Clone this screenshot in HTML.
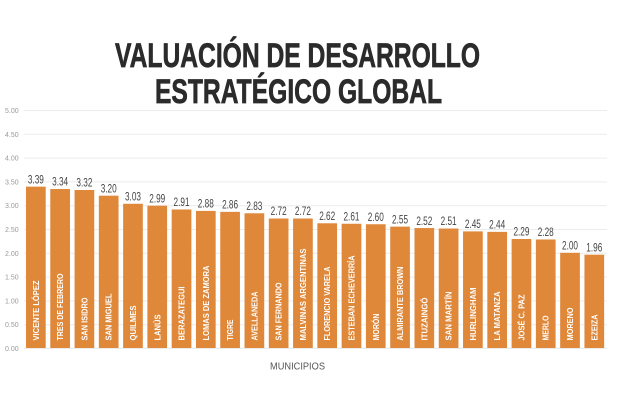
<!DOCTYPE html>
<html><head><meta charset="utf-8"><style>
html,body{margin:0;padding:0;background:#fff;}
svg{display:block;}
text{font-family:"Liberation Sans",sans-serif;}
</style></head><body>
<svg width="640" height="400" viewBox="0 0 640 400" xmlns="http://www.w3.org/2000/svg">
<rect width="640" height="400" fill="#fff"/>
<text x="115" y="67" font-size="34" font-weight="bold" fill="#2b2b2b" stroke="#2b2b2b" stroke-width="0.7" textLength="365" lengthAdjust="spacingAndGlyphs">VALUACIÓN DE DESARROLLO</text>
<text x="155" y="103" font-size="34" font-weight="bold" fill="#2b2b2b" stroke="#2b2b2b" stroke-width="0.7" textLength="287" lengthAdjust="spacingAndGlyphs">ESTRATÉGICO GLOBAL</text>
<g stroke="#ececec" stroke-width="1">
<line x1="24" x2="607" y1="110.5" y2="110.5"/>
<line x1="24" x2="607" y1="134.3" y2="134.3"/>
<line x1="24" x2="607" y1="158.1" y2="158.1"/>
<line x1="24" x2="607" y1="181.9" y2="181.9"/>
<line x1="24" x2="607" y1="205.7" y2="205.7"/>
<line x1="24" x2="607" y1="229.5" y2="229.5"/>
<line x1="24" x2="607" y1="253.3" y2="253.3"/>
<line x1="24" x2="607" y1="277.1" y2="277.1"/>
<line x1="24" x2="607" y1="300.9" y2="300.9"/>
<line x1="24" x2="607" y1="324.7" y2="324.7"/>
<line x1="24" x2="607" y1="348.5" y2="348.5"/>
</g>
<g font-size="7" fill="#9a9a9a">
<text x="5" y="113">5.00</text>
<text x="5" y="136.8">4.50</text>
<text x="5" y="160.6">4.00</text>
<text x="5" y="184.4">3.50</text>
<text x="5" y="208.2">3.00</text>
<text x="5" y="232">2.50</text>
<text x="5" y="255.8">2.00</text>
<text x="5" y="279.6">1.50</text>
<text x="5" y="303.4">1.00</text>
<text x="5" y="327.2">0.50</text>
<text x="5" y="351">0.00</text>
</g>
<g fill="#e0883a">
<rect x="26.00" y="186.64" width="19.7" height="161.36"/>
<rect x="50.28" y="189.02" width="19.7" height="158.98"/>
<rect x="74.56" y="189.97" width="19.7" height="158.03"/>
<rect x="98.84" y="195.68" width="19.7" height="152.32"/>
<rect x="123.12" y="203.77" width="19.7" height="144.23"/>
<rect x="147.40" y="205.68" width="19.7" height="142.32"/>
<rect x="171.68" y="209.48" width="19.7" height="138.52"/>
<rect x="195.96" y="210.91" width="19.7" height="137.09"/>
<rect x="220.24" y="211.86" width="19.7" height="136.14"/>
<rect x="244.52" y="213.29" width="19.7" height="134.71"/>
<rect x="268.80" y="218.53" width="19.7" height="129.47"/>
<rect x="293.08" y="218.53" width="19.7" height="129.47"/>
<rect x="317.36" y="223.29" width="19.7" height="124.71"/>
<rect x="341.64" y="223.76" width="19.7" height="124.24"/>
<rect x="365.92" y="224.24" width="19.7" height="123.76"/>
<rect x="390.20" y="226.62" width="19.7" height="121.38"/>
<rect x="414.48" y="228.05" width="19.7" height="119.95"/>
<rect x="438.76" y="228.52" width="19.7" height="119.48"/>
<rect x="463.04" y="231.38" width="19.7" height="116.62"/>
<rect x="487.32" y="231.86" width="19.7" height="116.14"/>
<rect x="511.60" y="239.00" width="19.7" height="109.00"/>
<rect x="535.88" y="239.47" width="19.7" height="108.53"/>
<rect x="560.16" y="252.80" width="19.7" height="95.20"/>
<rect x="584.44" y="254.70" width="19.7" height="93.30"/>
</g>
<g font-size="11.5" fill="#444" text-anchor="middle">
<text x="35.85" y="183.3" textLength="16" lengthAdjust="spacingAndGlyphs">3.39</text>
<text x="60.13" y="185.7" textLength="16" lengthAdjust="spacingAndGlyphs">3.34</text>
<text x="84.41" y="186.7" textLength="16" lengthAdjust="spacingAndGlyphs">3.32</text>
<text x="108.69" y="192.4" textLength="16" lengthAdjust="spacingAndGlyphs">3.20</text>
<text x="132.97" y="200.5" textLength="16" lengthAdjust="spacingAndGlyphs">3.03</text>
<text x="157.25" y="202.4" textLength="16" lengthAdjust="spacingAndGlyphs">2.99</text>
<text x="181.53" y="206.2" textLength="16" lengthAdjust="spacingAndGlyphs">2.91</text>
<text x="205.81" y="207.6" textLength="16" lengthAdjust="spacingAndGlyphs">2.88</text>
<text x="230.09" y="208.6" textLength="16" lengthAdjust="spacingAndGlyphs">2.86</text>
<text x="254.37" y="210.0" textLength="16" lengthAdjust="spacingAndGlyphs">2.83</text>
<text x="278.65" y="215.2" textLength="16" lengthAdjust="spacingAndGlyphs">2.72</text>
<text x="302.93" y="215.2" textLength="16" lengthAdjust="spacingAndGlyphs">2.72</text>
<text x="327.21" y="220.0" textLength="16" lengthAdjust="spacingAndGlyphs">2.62</text>
<text x="351.49" y="220.5" textLength="16" lengthAdjust="spacingAndGlyphs">2.61</text>
<text x="375.77" y="221.0" textLength="16" lengthAdjust="spacingAndGlyphs">2.60</text>
<text x="400.05" y="223.3" textLength="16" lengthAdjust="spacingAndGlyphs">2.55</text>
<text x="424.33" y="224.8" textLength="16" lengthAdjust="spacingAndGlyphs">2.52</text>
<text x="448.61" y="225.2" textLength="16" lengthAdjust="spacingAndGlyphs">2.51</text>
<text x="472.89" y="228.1" textLength="16" lengthAdjust="spacingAndGlyphs">2.45</text>
<text x="497.17" y="228.6" textLength="16" lengthAdjust="spacingAndGlyphs">2.44</text>
<text x="521.45" y="235.7" textLength="16" lengthAdjust="spacingAndGlyphs">2.29</text>
<text x="545.73" y="236.2" textLength="16" lengthAdjust="spacingAndGlyphs">2.28</text>
<text x="570.01" y="249.5" textLength="16" lengthAdjust="spacingAndGlyphs">2.00</text>
<text x="594.29" y="251.4" textLength="16" lengthAdjust="spacingAndGlyphs">1.96</text>
</g>
<g font-size="8.5" font-weight="bold" fill="#fff">
<text transform="translate(38.85,340.5) rotate(-90)" textLength="60" lengthAdjust="spacingAndGlyphs">VICENTE LÓPEZ</text>
<text transform="translate(63.13,340.5) rotate(-90)" textLength="67" lengthAdjust="spacingAndGlyphs">TRES DE FEBRERO</text>
<text transform="translate(87.41,340.5) rotate(-90)" textLength="43" lengthAdjust="spacingAndGlyphs">SAN ISIDRO</text>
<text transform="translate(111.69,340.5) rotate(-90)" textLength="47" lengthAdjust="spacingAndGlyphs">SAN MIGUEL</text>
<text transform="translate(135.97,340.5) rotate(-90)" textLength="35" lengthAdjust="spacingAndGlyphs">QUILMES</text>
<text transform="translate(160.25,340.5) rotate(-90)" textLength="26" lengthAdjust="spacingAndGlyphs">LANÚS</text>
<text transform="translate(184.53,340.5) rotate(-90)" textLength="54" lengthAdjust="spacingAndGlyphs">BERAZATEGUI</text>
<text transform="translate(208.81,340.5) rotate(-90)" textLength="75" lengthAdjust="spacingAndGlyphs">LOMAS DE ZAMORA</text>
<text transform="translate(233.09,340.5) rotate(-90)" textLength="21" lengthAdjust="spacingAndGlyphs">TIGRE</text>
<text transform="translate(257.37,340.5) rotate(-90)" textLength="49" lengthAdjust="spacingAndGlyphs">AVELLANEDA</text>
<text transform="translate(281.65,340.5) rotate(-90)" textLength="58" lengthAdjust="spacingAndGlyphs">SAN FERNANDO</text>
<text transform="translate(305.93,340.5) rotate(-90)" textLength="92" lengthAdjust="spacingAndGlyphs">MALVINAS ARGENTINAS</text>
<text transform="translate(330.21,340.5) rotate(-90)" textLength="74" lengthAdjust="spacingAndGlyphs">FLORENCIO VARELA</text>
<text transform="translate(354.49,340.5) rotate(-90)" textLength="85" lengthAdjust="spacingAndGlyphs">ESTEBAN ECHEVERRÍA</text>
<text transform="translate(378.77,340.5) rotate(-90)" textLength="27" lengthAdjust="spacingAndGlyphs">MORÓN</text>
<text transform="translate(403.05,340.5) rotate(-90)" textLength="74" lengthAdjust="spacingAndGlyphs">ALMIRANTE BROWN</text>
<text transform="translate(427.33,340.5) rotate(-90)" textLength="43" lengthAdjust="spacingAndGlyphs">ITUZAINGÓ</text>
<text transform="translate(451.61,340.5) rotate(-90)" textLength="49" lengthAdjust="spacingAndGlyphs">SAN MARTÍN</text>
<text transform="translate(475.89,340.5) rotate(-90)" textLength="53" lengthAdjust="spacingAndGlyphs">HURLINGHAM</text>
<text transform="translate(500.17,340.5) rotate(-90)" textLength="49" lengthAdjust="spacingAndGlyphs">LA MATANZA</text>
<text transform="translate(524.45,340.5) rotate(-90)" textLength="46" lengthAdjust="spacingAndGlyphs">JOSÉ C. PAZ</text>
<text transform="translate(548.73,340.5) rotate(-90)" textLength="25" lengthAdjust="spacingAndGlyphs">MERLO</text>
<text transform="translate(573.01,340.5) rotate(-90)" textLength="33" lengthAdjust="spacingAndGlyphs">MORENO</text>
<text transform="translate(597.29,340.5) rotate(-90)" textLength="26" lengthAdjust="spacingAndGlyphs">EZEIZA</text>
</g>
<text x="270" y="369.5" font-size="10.5" fill="#555" textLength="55" lengthAdjust="spacingAndGlyphs">MUNICIPIOS</text>
</svg>
</body></html>
